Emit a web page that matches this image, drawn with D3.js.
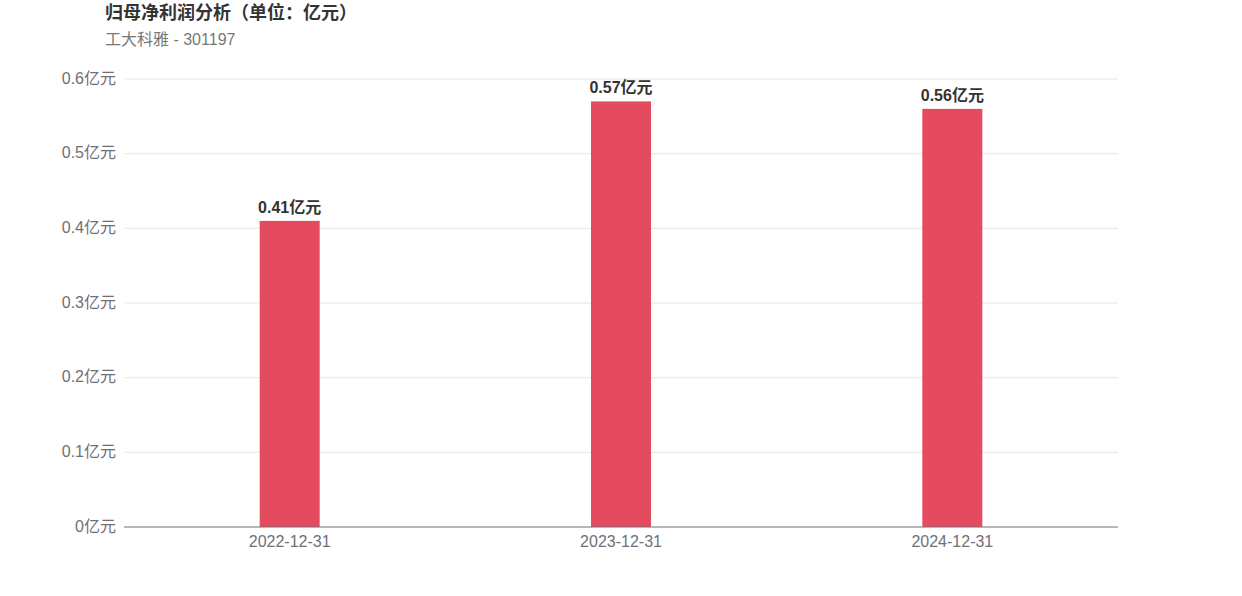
<!DOCTYPE html>
<meta charset="utf-8">
<style>
  body { margin: 0; background: #fff; }
  text { font-family: "Liberation Sans", "Noto Sans CJK SC", sans-serif; }
</style>
<svg width="1242" height="596"></svg>
<script src="https://d3js.org/d3.v7.min.js"></script>
<script>

    var categories = ["2022-12-31", "2023-12-31", "2024-12-31"];
    var values = [0.41, 0.57, 0.56];
    var yTicks = [0, 0.1, 0.2, 0.3, 0.4, 0.5, 0.6];
    var title = "归母净利润分析（单位：亿元）";
    var subtitle = "工大科雅 - 301197";

    var svg = d3.select("svg"),
        margin = {top: 79, right: 124, bottom: 69, left: 124},
        width = +svg.attr("width") - margin.left - margin.right,
        height = +svg.attr("height") - margin.top - margin.bottom,
        g = svg.append("g").attr("transform", "translate(" + margin.left + "," + margin.top + ")");

    var x = d3.scaleBand().domain(categories).range([0, width]);
    var y = d3.scaleLinear().domain([0, 0.6]).range([height, 0]);
    var barWidth = 60;

    svg.append("text")
        .attr("x", 105).attr("y", 19)
        .attr("font-size", 18).attr("font-weight", "bold").attr("fill", "#333")
        .text(title);
    svg.append("text")
        .attr("x", 105).attr("y", 45)
        .attr("font-size", 16).attr("fill", "#777")
        .text(subtitle);

    // grid lines
    g.selectAll(".grid")
        .data(yTicks.filter(function(d) { return d > 0; }))
        .enter().append("line")
        .attr("x1", 0).attr("x2", width)
        .attr("y1", function(d) { return y(d); })
        .attr("y2", function(d) { return y(d); })
        .attr("stroke", "#e6e6e6");

    // y labels
    g.selectAll(".ylab")
        .data(yTicks)
        .enter().append("text")
        .attr("x", -8)
        .attr("y", function(d) { return y(d) - 1; })
        .attr("dy", "0.35em")
        .attr("text-anchor", "end")
        .attr("font-size", 16).attr("fill", "#6e7079")
        .text(function(d) { return d3.format("~g")(+d.toFixed(1)) + "亿元"; });

    // bars
    g.selectAll(".bar")
        .data(values)
        .enter().append("rect")
        .attr("x", function(d, i) { return x(categories[i]) + x.bandwidth() / 2 - barWidth / 2; })
        .attr("y", function(d) { return y(d); })
        .attr("width", barWidth)
        .attr("height", function(d) { return height - y(d); })
        .attr("fill", "#e44b5e");

    // value labels
    g.selectAll(".val")
        .data(values)
        .enter().append("text")
        .attr("x", function(d, i) { return x(categories[i]) + x.bandwidth() / 2; })
        .attr("y", function(d) { return y(d) - 8; })
        .attr("text-anchor", "middle")
        .attr("font-size", 16).attr("font-weight", "bold").attr("fill", "#333")
        .text(function(d) { return d + "亿元"; });

    // x axis
    g.append("line")
        .attr("x1", 0).attr("x2", width)
        .attr("y1", height).attr("y2", height)
        .attr("stroke", "#6e7079");

    g.selectAll(".xlab")
        .data(categories)
        .enter().append("text")
        .attr("x", function(d) { return x(d) + x.bandwidth() / 2; })
        .attr("y", height + 20)
        .attr("text-anchor", "middle")
        .attr("font-size", 16).attr("font-weight", "normal").attr("fill", "#6e7079")
        .text(function(d) { return d; });
</script>
